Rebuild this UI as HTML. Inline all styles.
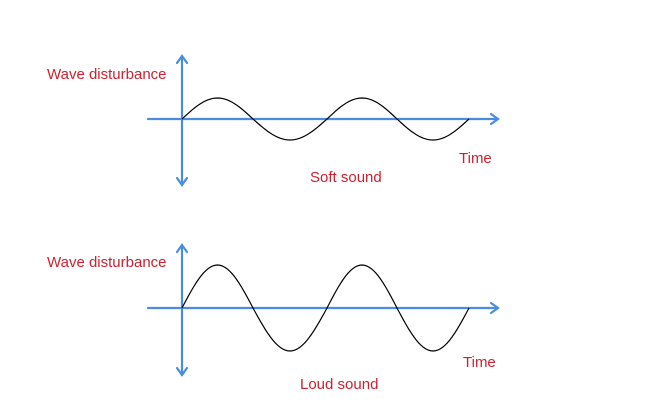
<!DOCTYPE html>
<html><head><meta charset="utf-8"><style>
html,body{margin:0;padding:0;background:#fff;}
svg{display:block;}
text{font-family:"Liberation Sans",Arial,sans-serif;font-size:15px;fill:#d0202f;}
</style></head><body>
<svg id="s" width="662" height="416" viewBox="0 0 662 416" xmlns="http://www.w3.org/2000/svg">
<g stroke="#4a8de0" stroke-width="2.2" fill="none" stroke-linecap="round">
<line x1="182" y1="56" x2="182" y2="185"/>
<polyline points="177,63 182,56 187,63"/>
<polyline points="177,178 182,185 187,178"/>
<line x1="148" y1="119" x2="498" y2="119"/>
<polyline points="491,114 498,119 491,124"/>
<line x1="182" y1="245" x2="182" y2="375"/>
<polyline points="177,252 182,245 187,252"/>
<polyline points="177,368 182,375 187,368"/>
<line x1="148" y1="308" x2="498" y2="308"/>
<polyline points="491,303 498,308 491,313"/>
</g>
<path id="w1" fill="none" stroke="#000" stroke-width="1.2"/>
<path id="w2" fill="none" stroke="#000" stroke-width="1.2"/>
<text x="47" y="79">Wave disturbance</text>
<text x="459" y="163">Time</text>
<text x="310" y="182">Soft sound</text>
<text x="47" y="267">Wave disturbance</text>
<text x="463" y="367">Time</text>
<text x="300" y="389">Loud sound</text>
</svg>
<script>
function wave(id,y0,A){var xs=[182,253,327,397,469],d="";
for(var i=0;i<4;i++){var a=xs[i],b=xs[i+1],s=(i%2==0)?-1:1;
for(var k=0;k<=30;k++){var t=k/30,x=a+(b-a)*t,y=y0+s*A*Math.sin(Math.PI*t);
d+=(d?"L":"M")+x.toFixed(2)+","+y.toFixed(2);}}
document.getElementById(id).setAttribute("d",d);}
wave("w1",119,21);wave("w2",308,43);
</script>
</body></html>
